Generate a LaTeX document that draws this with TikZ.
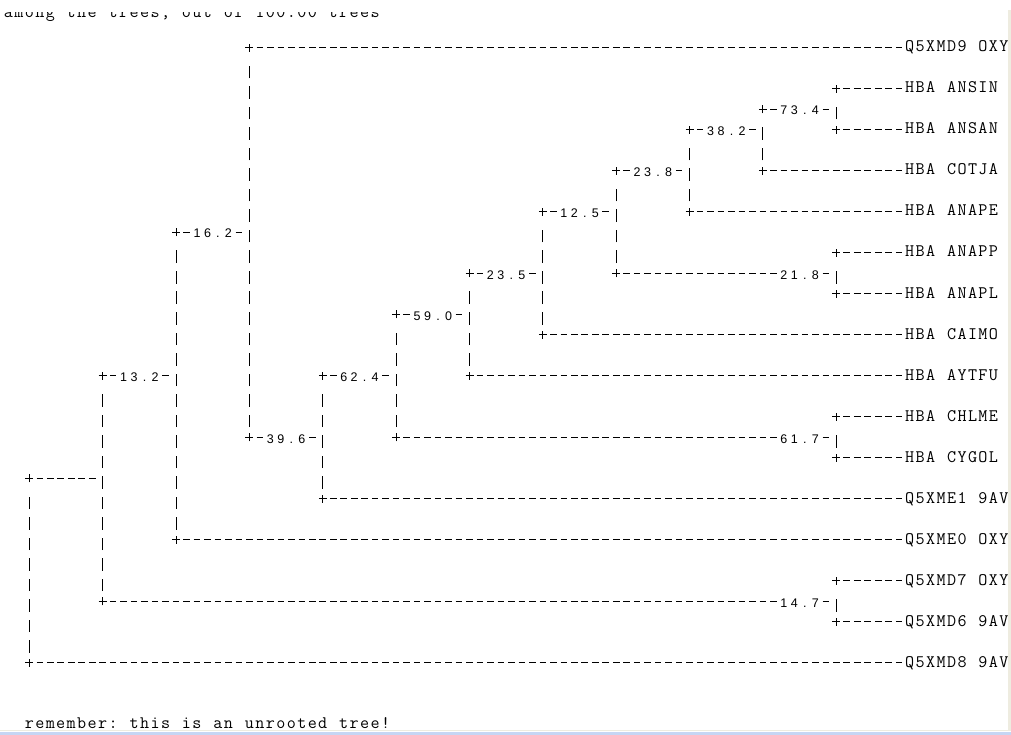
\documentclass[tikz,border=0pt]{standalone}
\usepackage{fontspec}
\newfontfamily\labfont{Liberation Sans}
\newcommand\dashglyph{\makebox[10.48pt]{\rule[3.6pt]{6.6pt}{0.95pt}}}
\newcommand\plusglyph{\makebox[10.48pt]{\makebox[8pt][l]{\rlap{\rule[3.6pt]{8pt}{0.95pt}}\hspace*{3.5pt}\rule[0.1pt]{0.95pt}{8pt}}}}
\newcommand\barglyph{\makebox[10.48pt]{\rule[-6pt]{0.95pt}{12.5pt}}}
\ExplSyntaxOn
\cs_new:Npn \mydashes #1 { \prg_replicate:nn {#1} {-} }
\cs_new_protected:Npn \cells #1
  {
    \tl_set:Nx \l_tmpa_tl {#1}
    \exp_args:NV \str_map_inline:nn \l_tmpa_tl
      {
        \str_case:nnF {##1}
          {
            {|} { \barglyph }
            {-} { \dashglyph }
            {+} { \plusglyph }
          }
          { \makebox[10.48pt]{##1} }
      }
  }
\ExplSyntaxOff
\definecolor{winbeige}{RGB}{238,236,224}
\definecolor{winblue}{RGB}{198,214,244}
\newcommand\labtxt[4]{\makebox[10.48pt]{#1}\makebox[10.48pt]{#2}\makebox[10.48pt]{#3}\makebox[10.48pt]{#4}}
\tikzset{
  mono/.style={anchor=base west, inner sep=0pt, outer sep=0pt, text=black,
    font=\ttfamily\fontsize{17.6pt}{20pt}\selectfont},
  labs/.style={anchor=base west, inner sep=0pt, outer sep=0pt, text=black,
    font=\labfont\fontsize{12.5pt}{14pt}\selectfont}
}
% text segment: [options] col line text
\newcommand\seg[4][]{\node[mono,#1] at ({24.1+(#2)*10.48},{52+(#3)*20.5}) {\cells{#4}};}
% support label: col line label name
\newcommand\lab[4]{\node[labs,name=#4] at ({24.1+(#1)*10.48},{53.5+(#2)*20.5}) {\labtxt#3};}
% inner node "+-xx.x-|": col line label name
\newcommand\inode[4]{%
  \seg[name=#4a]{#1}{#2}{+-}%
  \lab{#1+2}{#2}{#3}{#4}%
  \seg[name=#4b]{#1+6}{#2}{-|}}
% vertical bars: col {lines} name-prefix
\newcommand\vbars[3]{\foreach \l in {#2} {\node[mono,name=#3-\l] at ({24.1+(#1)*10.48},{52+\l*20.5}) {\cells{|}};}}
\begin{document}
\begin{tikzpicture}[x=1pt,y=-1pt]
\useasboundingbox (0,0) rectangle (1011,735);
\fill[white] (0,0) rectangle (1011,735);
% header (partly hidden)
\begin{scope}
\clip (0,12.5) rectangle (1011,735);
\node[mono,name=header] at ({24.1-2*10.48},17.5) {\cells{among the trees, out of 100.00 trees}};
\end{scope}
% window edges
\fill[winbeige] (1008,10) rectangle (1011,731);
\fill[winbeige] (0,729.6) rectangle (1011,730.8);
\fill[winblue] (0,732) rectangle (1011,735);

% ---- vertical bars ----
\vbars{0}{22,...,29}{vA}
\vbars{7}{17,18,19,20,22,23,24,25,26}{vB}
\vbars{14}{10,...,15,17,18,19,20,21,22,23}{vC}
\vbars{21}{1,...,8,10,11,12,13,14,15,16,17,18}{vD}
\vbars{28}{17,18,20,21}{vE}
\vbars{35}{14,15,17,18}{vF}
\vbars{42}{12,14,15}{vG}
\vbars{49}{9,10,12,13}{vH}
\vbars{56}{7,9,10}{vI}
\vbars{63}{5,7}{vJ}
\vbars{70}{5}{vK}

% ---- line 0 ----
\seg[name=br0]{21}{0}{+\mydashes{62}}
\seg[name=Q5XMD9]{84}{0}{Q5XMD9 OXY}
% ---- lines 2-4 ----
\seg[name=br2]{77}{2}{+------}
\seg[name=ANSIN]{84}{2}{HBA ANSIN}
\inode{70}{3}{73.4}{n734}
\inode{63}{4}{38.2}{n382}
\seg[name=br4]{77}{4}{+------}
\seg[name=ANSAN]{84}{4}{HBA ANSAN}
% ---- line 6 ----
\inode{56}{6}{23.8}{n238}
\seg[name=br6]{70}{6}{+\mydashes{13}}
\seg[name=COTJA]{84}{6}{HBA COTJA}
% ---- line 8 ----
\inode{49}{8}{12.5}{n125}
\seg[name=br8]{63}{8}{+\mydashes{20}}
\seg[name=ANAPE]{84}{8}{HBA ANAPE}
% ---- line 9 ----
\inode{14}{9}{16.2}{n162}
% ---- lines 10-12 ----
\seg[name=br10]{77}{10}{+------}
\seg[name=ANAPP]{84}{10}{HBA ANAPP}
\inode{42}{11}{23.5}{n235}
\seg[name=br11]{56}{11}{+\mydashes{15}}
\lab{72}{11}{21.8}{n218}
\seg[name=n218b]{76}{11}{-|}
\seg[name=br12]{77}{12}{+------}
\seg[name=ANAPL]{84}{12}{HBA ANAPL}
% ---- line 13-14 ----
\inode{35}{13}{59.0}{n590}
\seg[name=br14]{49}{14}{+\mydashes{34}}
\seg[name=CAIMO]{84}{14}{HBA CAIMO}
% ---- line 16 ----
\inode{7}{16}{13.2}{n132}
\inode{28}{16}{62.4}{n624}
\seg[name=br16]{42}{16}{+\mydashes{41}}
\seg[name=AYTFU]{84}{16}{HBA AYTFU}
% ---- lines 18-20 ----
\seg[name=br18]{77}{18}{+------}
\seg[name=CHLME]{84}{18}{HBA CHLME}
\inode{21}{19}{39.6}{n396}
\seg[name=br19]{35}{19}{+\mydashes{36}}
\lab{72}{19}{61.7}{n617}
\seg[name=n617b]{76}{19}{-|}
\seg[name=br20]{77}{20}{+------}
\seg[name=CYGOL]{84}{20}{HBA CYGOL}
% ---- line 21 ----
\seg[name=root]{0}{21}{+------|}
% ---- line 22, 24 ----
\seg[name=br22]{28}{22}{+\mydashes{55}}
\seg[name=Q5XME1]{84}{22}{Q5XME1 9AV}
\seg[name=br24]{14}{24}{+\mydashes{69}}
\seg[name=Q5XME0]{84}{24}{Q5XME0 OXY}
% ---- lines 26-28 ----
\seg[name=br26]{77}{26}{+------}
\seg[name=Q5XMD7]{84}{26}{Q5XMD7 OXY}
\seg[name=br27]{7}{27}{+\mydashes{64}}
\lab{72}{27}{14.7}{n147}
\seg[name=n147b]{76}{27}{-|}
\seg[name=br28]{77}{28}{+------}
\seg[name=Q5XMD6]{84}{28}{Q5XMD6 9AV}
% ---- line 30 ----
\seg[name=br30]{0}{30}{+\mydashes{83}}
\seg[name=Q5XMD8]{84}{30}{Q5XMD8 9AV}
% ---- footer ----
\seg[name=footer]{0}{33}{remember: this is an unrooted tree!}
\end{tikzpicture}
\end{document}
